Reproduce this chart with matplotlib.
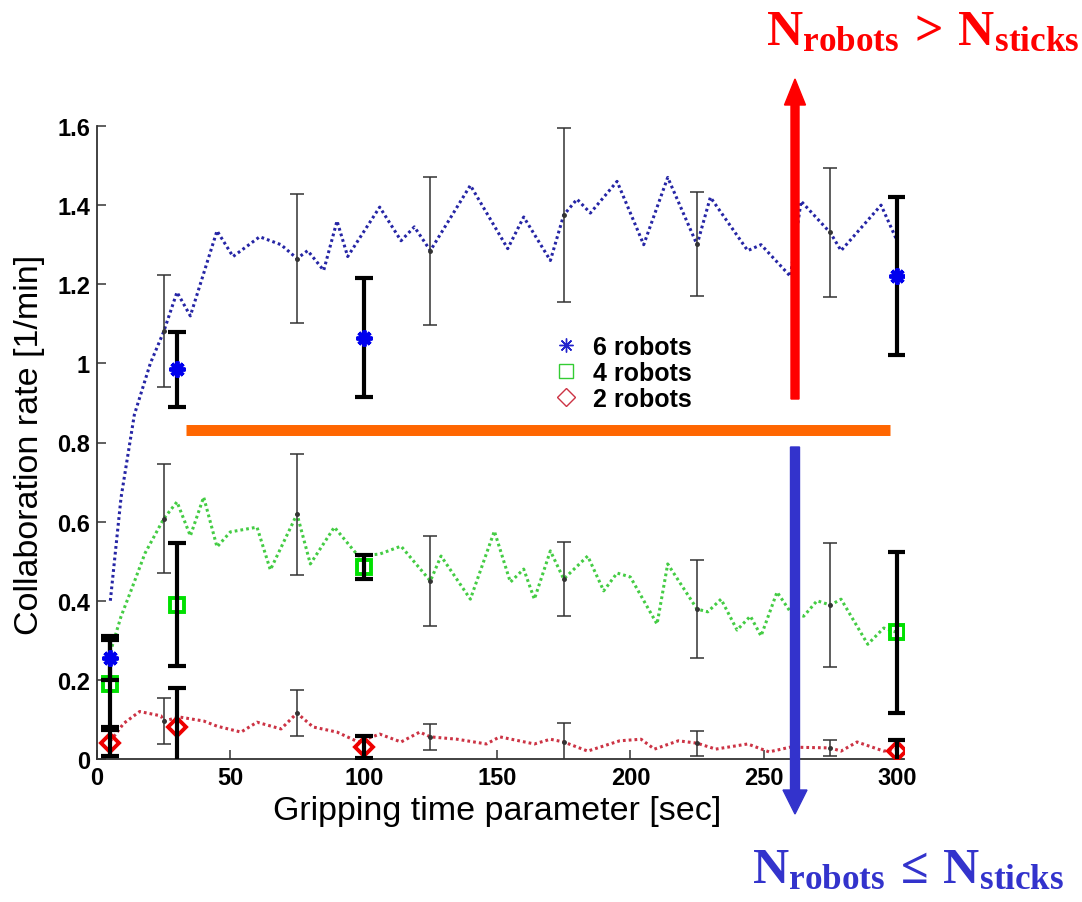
import matplotlib
matplotlib.use("Agg")
import matplotlib.pyplot as plt
from matplotlib.lines import Line2D
from matplotlib.patches import FancyArrow

plt.rcParams["font.family"] = ["Liberation Sans", "DejaVu Sans"]
plt.rcParams["mathtext.fontset"] = "custom"
plt.rcParams["mathtext.rm"] = "Liberation Serif:bold"
plt.rcParams["mathtext.it"] = "Liberation Serif:bold"
plt.rcParams["mathtext.bf"] = "Liberation Serif:bold"

# ---- simulated collaboration rate curves ----
sim6_x = [5, 9, 14, 20, 25, 30, 35, 45, 51, 61, 69, 75, 79, 85, 90, 94, 106, 114,
          119, 125, 140, 154, 160, 170, 175, 180, 185, 195, 205, 214, 225, 230,
          244, 249, 260, 264, 275, 279, 294, 300]
sim6_y = [0.40, 0.66, 0.87, 1.00, 1.08, 1.18, 1.12, 1.335, 1.27, 1.32, 1.30, 1.265,
          1.285, 1.235, 1.36, 1.27, 1.395, 1.31, 1.345, 1.285, 1.45, 1.29, 1.37,
          1.26, 1.375, 1.415, 1.38, 1.46, 1.30, 1.47, 1.30, 1.42, 1.285, 1.30,
          1.22, 1.41, 1.33, 1.285, 1.40, 1.31]

sim4_x = [5, 9, 13, 18, 25, 30, 35, 40, 45, 50, 60, 65, 75, 80, 89, 98, 106, 114,
          125, 129, 140, 149, 155, 160, 164, 170, 175, 184, 190, 195, 200, 210,
          214, 225, 229, 234, 240, 245, 249, 255, 260, 265, 270, 275, 279, 289,
          295, 300]
sim4_y = [0.27, 0.36, 0.43, 0.52, 0.607, 0.65, 0.564, 0.662, 0.536, 0.574, 0.586,
          0.478, 0.619, 0.493, 0.586, 0.513, 0.518, 0.538, 0.45, 0.513, 0.404,
          0.576, 0.447, 0.48, 0.404, 0.526, 0.455, 0.513, 0.425, 0.47, 0.46,
          0.341, 0.493, 0.379, 0.372, 0.404, 0.326, 0.361, 0.311, 0.422, 0.372,
          0.361, 0.40, 0.389, 0.404, 0.29, 0.331, 0.32]

sim2_x = [5, 10, 16, 24, 25, 31, 40, 45, 54, 60, 69, 75, 81, 90, 98, 106, 114, 121,
          125, 135, 146, 151, 164, 170, 175, 184, 196, 204, 209, 218, 225, 232,
          244, 252, 260, 275, 279, 285, 295, 300]
sim2_y = [0.045, 0.09, 0.12, 0.109, 0.096, 0.106, 0.096, 0.083, 0.068, 0.093,
          0.076, 0.116, 0.081, 0.068, 0.043, 0.063, 0.043, 0.068, 0.056, 0.05,
          0.038, 0.056, 0.038, 0.05, 0.043, 0.02, 0.046, 0.05, 0.025, 0.046, 0.04,
          0.025, 0.038, 0.018, 0.03, 0.028, 0.02, 0.043, 0.02, 0.025]

# ---- simulation means with standard deviation ----
simbar_x = [25, 75, 125, 175, 225, 275]
simbar6 = [1.082, 1.264, 1.284, 1.375, 1.302, 1.332]
simerr6 = [0.141, 0.163, 0.188, 0.220, 0.132, 0.163]
simbar4 = [0.607, 0.619, 0.450, 0.455, 0.379, 0.389]
simerr4 = [0.138, 0.153, 0.114, 0.093, 0.124, 0.157]
simbar2 = [0.096, 0.116, 0.056, 0.043, 0.040, 0.028]
simerr2 = [0.058, 0.058, 0.033, 0.048, 0.032, 0.020]

# ---- real-robot experiments ----
exp_x = [5, 30, 100, 300]
exp6 = [0.255, 0.985, 1.065, 1.22]
experr6 = [0.055, 0.095, 0.15, 0.20]
exp4 = [0.19, 0.39, 0.485, 0.32]
experr4 = [0.11, 0.155, 0.03, 0.203]
exp2 = [0.04, 0.08, 0.03, 0.02]
experr2 = [0.033, 0.10, 0.028, 0.027]

legend_labels = ["6 robots", "4 robots", "2 robots"]
xticks = [0, 50, 100, 150, 200, 250, 300]
yticks = [0, 0.2, 0.4, 0.6, 0.8, 1.0, 1.2, 1.4, 1.6]
ytick_labels = ["0", "0.2", "0.4", "0.6", "0.8", "1", "1.2", "1.4", "1.6"]

fig = plt.figure(figsize=(10.82, 9.03), dpi=100)
ax = fig.add_axes([97 / 1082, 143 / 903, 807 / 1082, 633 / 903])

dot = (0, (0.9, 1.0))
ax.plot(sim6_x, sim6_y, color="#2525a5", lw=2.2, linestyle=dot, zorder=2)
ax.plot(sim4_x, sim4_y, color="#44cc44", lw=2.2, linestyle=dot, zorder=2)
ax.plot(sim2_x, sim2_y, color="#cc3344", lw=2.2, linestyle=dot, zorder=2)

for m, e in [(simbar6, simerr6), (simbar4, simerr4), (simbar2, simerr2)]:
    ax.errorbar(simbar_x, m, yerr=e, fmt="o", color="#333333", ms=2.5,
                elinewidth=1.1, capsize=4.8, capthick=1.1, zorder=3)

# experiment markers and thick error bars
ax.plot(exp_x, exp4, linestyle="none", marker="s", ms=10.5, mfc="none",
        mec="#00e000", mew=2.8, zorder=4)
ax.plot(exp_x, exp2, linestyle="none", marker="D", ms=9.5, mfc="none",
        mec="#ee0000", mew=2.8, zorder=4)
for m, e in [(exp6, experr6), (exp4, experr4), (exp2, experr2)]:
    ax.errorbar(exp_x, m, yerr=e, fmt="none", ecolor="black",
                elinewidth=3.0, capsize=6.5, capthick=3.0, zorder=5)
ax.plot(exp_x, exp6, linestyle="none", marker=(8, 2, 0), ms=11.5, mec="#0000ee",
        mew=2.8, zorder=6)

ax.set_xlim(0, 302.6)
ax.set_ylim(0, 1.6)
ax.set_xticks(xticks)
ax.set_xticklabels([str(v) for v in xticks])
ax.set_yticks(yticks)
ax.set_yticklabels(ytick_labels)
for lab in ax.get_xticklabels() + ax.get_yticklabels():
    lab.set_fontweight("bold")
ax.tick_params(direction="in", length=6.5, width=1.2, labelsize=17, pad=5,
               color="#444444")
for s in ["top", "right"]:
    ax.spines[s].set_visible(False)
for s in ["left", "bottom"]:
    ax.spines[s].set_linewidth(1.3)
    ax.spines[s].set_color("#333333")

fig.text(497 / 1082, (903 - 812) / 903, "Gripping time parameter [sec]",
         ha="center", va="center", fontsize=24.5)
fig.text(30 / 1082, (903 - 445) / 903, "Collaboration rate [1/min]",
         ha="center", va="center", rotation=90, fontsize=24.5)

handles = [
    Line2D([], [], linestyle="none", marker=(8, 2, 0), ms=10, mec="#2222cc", mew=1.0),
    Line2D([], [], linestyle="none", marker="s", ms=9.5, mfc="none", mec="#33cc33", mew=1.0),
    Line2D([], [], linestyle="none", marker="D", ms=9, mfc="none", mec="#cc3344", mew=1.0),
]
ax.legend(handles, legend_labels, loc="center left",
          bbox_to_anchor=(555 / 1082, (903 - 374) / 903),
          bbox_transform=fig.transFigure, frameon=False, borderpad=0,
          borderaxespad=0, handlelength=0.9, handletextpad=0.6,
          labelspacing=0.08, prop={"weight": "bold", "size": 18})

# regime separator and arrows (figure inches from lower left)
tr = fig.dpi_scale_trans
sep = Line2D([1.86, 8.90], [(903 - 431) / 100] * 2, color="#ff6600", lw=7.9,
             solid_capstyle="butt", transform=tr)
fig.add_artist(sep)
up = FancyArrow(7.95, (903 - 400) / 100, 0, 3.20, width=0.08, head_width=0.21,
                head_length=0.26, length_includes_head=True, color="#ff0000",
                transform=tr)
down = FancyArrow(7.95, (903 - 448) / 100, 0, -3.67, width=0.09, head_width=0.24,
                  head_length=0.24, length_includes_head=True, color="#3333cc",
                  transform=tr)
fig.add_artist(up)
fig.add_artist(down)

fig.text(766 / 1082, (903 - 45) / 903, r"$\mathrm{N_{robots}\,>\,N_{sticks}}$",
         color="#ff0000", fontsize=36, ha="left", va="baseline")
fig.text(752 / 1082, (903 - 883) / 903, r"$\mathrm{N_{robots}\,\leq\,N_{sticks}}$",
         color="#3333cc", fontsize=36, ha="left", va="baseline")

fig.savefig("out.png", dpi=100)
